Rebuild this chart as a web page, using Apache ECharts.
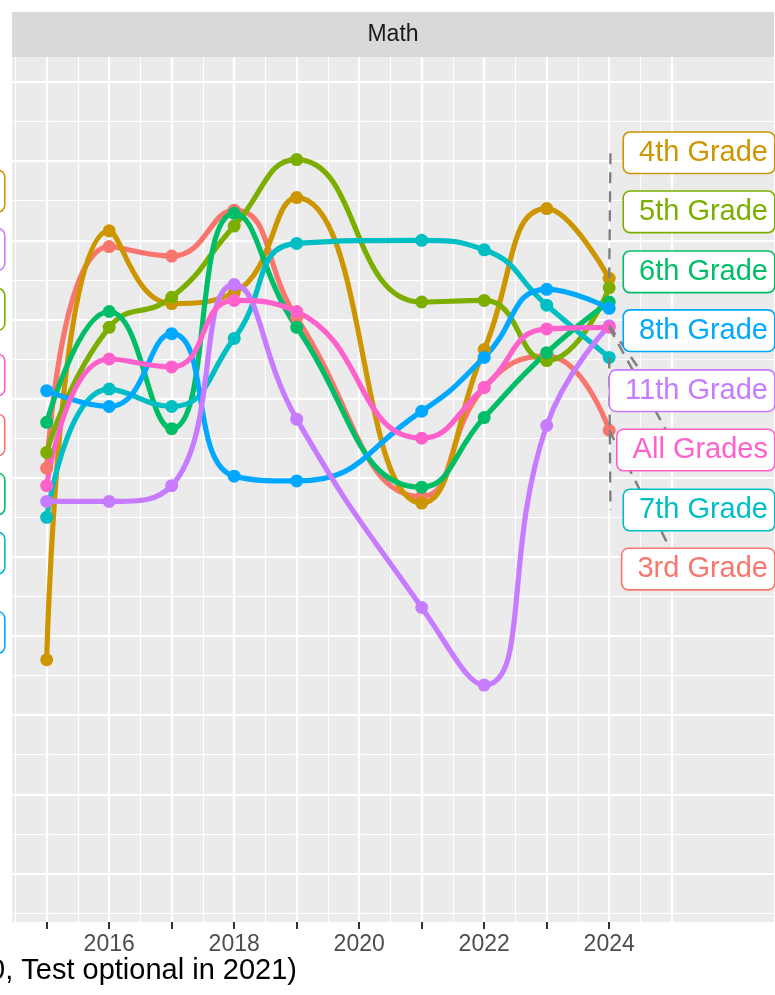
<!DOCTYPE html>
<html>
<head>
<meta charset="utf-8">
<script src="https://cdn.jsdelivr.net/npm/echarts@6/dist/echarts.min.js"></script>
<style>
  html, body { margin: 0; padding: 0; background: #ffffff; }
  #chart { width: 775px; height: 995px; }
</style>
</head>
<body>
<div id="chart"></div>
<script>
// Math proficiency (%) by grade, no test in 2020
const years = [2015, 2016, 2017, 2018, 2019, 2021, 2022, 2023, 2024];

const grade3    = [30.6, 44.6, 44.0, 46.9, 40.1, 28.8, 35.7, 37.7, 33.0];
const grade4    = [18.5, 45.6, 41.0, 41.7, 47.7, 28.4, 38.1, 47.0, 42.6];
const grade5    = [31.6, 39.5, 41.4, 45.9, 50.1, 41.1, 41.2, 37.4, 42.0];
const grade6    = [33.5, 40.5, 33.1, 46.7, 39.5, 29.4, 33.8, 37.9, 41.1];
const grade7    = [27.5, 35.6, 34.5, 38.8, 44.8, 45.0, 44.4, 40.9, 37.6];
const grade8    = [35.5, 34.5, 39.1, 30.1, 29.8, 34.2, 37.6, 41.9, 40.7];
const grade11   = [28.5, 28.5, 29.5, 42.2, 33.7, 21.8, 16.9, 33.3, 39.6];
const allGrades = [29.5, 37.5, 37.0, 41.2, 40.5, 32.5, 35.7, 39.4, 39.5];

const groupNames  = ['3rd Grade', '4th Grade', '5th Grade', '6th Grade', '7th Grade', '8th Grade', '11th Grade', 'All Grades'];
const groupValues = [grade3, grade4, grade5, grade6, grade7, grade8, grade11, allGrades];

// x axis ticks and labels
const tickYears  = [2015, 2016, 2017, 2018, 2019, 2020, 2021, 2022, 2023, 2024];
const labelYears = [2016, 2018, 2020, 2022, 2024];

// repelled end labels (Math panel, right side): label centre in axis units
const endLabelNames  = ['4th Grade', '5th Grade', '6th Grade', '8th Grade', '11th Grade', 'All Grades', '7th Grade', '3rd Grade'];
const endLabelLevels = [50.53, 46.80, 43.01, 39.29, 35.50, 31.75, 27.96, 24.23];

// labels of the neighbouring panel that spill into view on the left
const sideLabelNames  = ['4th Grade', '11th Grade', '5th Grade', 'All Grades', '3rd Grade', '6th Grade', '7th Grade', '8th Grade'];
const sideLabelLevels = [48.11, 44.42, 40.63, 36.49, 32.70, 28.97, 25.24, 20.22];

const FONT = "'Liberation Sans', Arial, Helvetica, sans-serif";
const palette = {
  '3rd Grade': '#F8766D', '4th Grade': '#CD9600', '5th Grade': '#7CAE00', '6th Grade': '#00BE67',
  '7th Grade': '#00BFC4', '8th Grade': '#00A9FF', '11th Grade': '#C77CFF', 'All Grades': '#FF61CC'
};

// axis extents (ggplot-style expansion around the data)
const xMin = 2014.445, xMax = 2026.637;
const yMin = 1.932, yMax = 56.579;

// panel grid: half-year verticals, 2.5-point horizontals
const vGrid = [];
for (let v = 2014.5; v <= 2025.001; v += 0.5) vGrid.push(v);
const hGrid = [];
for (let v = 2.5; v <= 55.001; v += 2.5) hGrid.push(v);

const gridLines = [];
vGrid.forEach(v => gridLines.push({ xAxis: v, lineStyle: { color: '#FFFFFF', width: Number.isInteger(v) ? 2.2 : 1.1, type: 'solid' } }));
hGrid.forEach(v => gridLines.push({ yAxis: v, lineStyle: { color: '#FFFFFF', width: (v % 5 === 0) ? 2.2 : 1.1, type: 'solid' } }));

const series = [{
  type: 'line', data: [], z: 1, silent: true,
  markLine: {
    z: 1, silent: true, symbol: 'none', animation: false,
    label: { show: false }, emphasis: { disabled: true },
    data: gridLines
  }
}];

groupNames.forEach((name, i) => {
  series.push({
    type: 'line', name: name, z: 2, silent: true,
    data: years.map((yr, j) => [yr, groupValues[i][j]]),
    smooth: 0.5, showSymbol: false,
    lineStyle: { color: palette[name], width: 5.2, cap: 'round', join: 'round' }
  });
});
groupNames.forEach((name, i) => {
  series.push({
    type: 'scatter', name: name + ' points', z: 3, silent: true,
    data: years.map((yr, j) => [yr, groupValues[i][j]]),
    symbolSize: 13,
    itemStyle: { color: palette[name], opacity: 1 }
  });
});

const chart = echarts.init(document.getElementById('chart'), null, { renderer: 'canvas' });
chart.setOption({
  animation: false,
  backgroundColor: '#FFFFFF',
  grid: { left: 12, right: 1, top: 57, bottom: 73, show: true, backgroundColor: '#EBEBEB', borderWidth: 0 },
  xAxis: {
    type: 'value', min: xMin, max: xMax,
    splitLine: { show: false }, axisLine: { show: false },
    axisTick: { show: true, length: 7, lineStyle: { color: '#333333', width: 2 }, customValues: tickYears },
    axisLabel: { customValues: labelYears, fontSize: 23, color: '#4D4D4D', margin: 11, fontFamily: FONT,
                 formatter: v => String(Math.round(v)) }
  },
  yAxis: { type: 'value', min: yMin, max: yMax, show: false, splitLine: { show: false } },
  series: series
});

// annotation layer: strip, caption, repelled labels and their leader segments
const px = (x, y) => chart.convertToPixel({ gridIndex: 0 }, [x, y]);
const lastYear = years[years.length - 1];
const panelLeft = px(xMin, yMin)[0];
const panelRight = px(xMax, yMin)[0];

function labelBox(text, x, y, color) {
  return {
    type: 'text', z: 20, silent: true,
    style: {
      text: text, x: x, y: y, align: 'right', verticalAlign: 'middle',
      fill: color, font: '29px ' + FONT, lineHeight: 29,
      backgroundColor: '#FFFFFF', borderColor: color, borderWidth: 1.6, borderRadius: 6,
      padding: [5.5, 6, 5.5, 15]
    }
  };
}

// where each leader segment meets its label (axis units)
const leaderEnds = {
  '4th Grade':  [2024.02, 50.53],
  '7th Grade':  [2024.02, 27.96],
  '11th Grade': [2024.50, 36.76],
  'All Grades': [2024.91, 33.01],
  '3rd Grade':  [2024.98, 25.49]
};

const graphics = [];
graphics.push({ type: 'rect', z: 5, silent: true,
  shape: { x: panelLeft, y: 12, width: panelRight - panelLeft, height: 45 },
  style: { fill: '#D9D9D9' } });
graphics.push({ type: 'text', z: 6, silent: true,
  style: { text: 'Math', x: (panelLeft + panelRight) / 2, y: 34.5, align: 'center', verticalAlign: 'middle',
           fill: '#1A1A1A', font: '23px ' + FONT } });
graphics.push({ type: 'text', z: 6, silent: true,
  style: { text: '(No test in 2020, Test optional in 2021)', x: 297, y: 971, align: 'right', verticalAlign: 'middle',
           fill: '#000000', font: '29px ' + FONT } });

Object.keys(leaderEnds).forEach(name => {
  const idx = groupNames.indexOf(name);
  const vals = groupValues[idx];
  const p0 = px(lastYear, vals[vals.length - 1]);
  const p1 = px(leaderEnds[name][0], leaderEnds[name][1]);
  graphics.push({ type: 'line', z: 15, silent: true,
    shape: { x1: p0[0], y1: p0[1], x2: p1[0], y2: p1[1] },
    style: { stroke: '#7F7F7F', lineWidth: 2.4, lineDash: [11, 8] } });
});

endLabelNames.forEach((name, i) => {
  const y = px(lastYear, endLabelLevels[i])[1];
  graphics.push(labelBox(name, panelRight, y, palette[name]));
});
sideLabelNames.forEach((name, i) => {
  const y = px(xMin, sideLabelLevels[i])[1];
  graphics.push(labelBox(name, panelLeft - 8, y, palette[name]));
});

chart.setOption({ graphic: { elements: graphics } });
</script>
</body>
</html>
